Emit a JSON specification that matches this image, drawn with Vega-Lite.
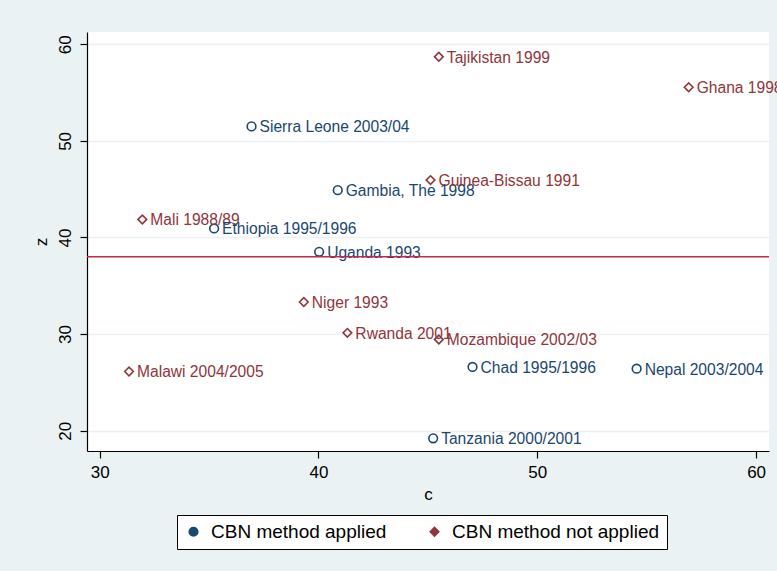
{
  "$schema": "https://vega.github.io/schema/vega-lite/v6.json",
  "width": 682,
  "height": 419,
  "autosize": {"type": "none"},
  "padding": {"left": 87, "top": 32, "right": 8, "bottom": 120},
  "background": "#eaf2f3",
  "view": {"fill": "white", "stroke": null},
  "config": {
    "font": "Liberation Sans",
    "axis": {"labelFont": "Liberation Sans", "titleFont": "Liberation Sans", "labelColor": "black", "titleColor": "black", "domainColor": "black", "tickColor": "black", "titleFontWeight": "normal"},
    "legend": {"labelFont": "Liberation Sans", "labelLimit": 400}
  },
  "data": {
    "values": [
      {"country": "Tajikistan 1999", "c": 45.5, "z": 58.7, "group": "CBN method not applied"},
      {"country": "Ghana 1998", "c": 56.92, "z": 55.55, "group": "CBN method not applied"},
      {"country": "Sierra Leone 2003/04", "c": 36.94, "z": 51.5, "group": "CBN method applied"},
      {"country": "Gambia, The 1998", "c": 40.88, "z": 44.9, "group": "CBN method applied"},
      {"country": "Guinea-Bissau 1991", "c": 45.12, "z": 45.94, "group": "CBN method not applied"},
      {"country": "Mali 1988/89", "c": 31.95, "z": 41.87, "group": "CBN method not applied"},
      {"country": "Ethiopia 1995/1996", "c": 35.23, "z": 40.94, "group": "CBN method applied"},
      {"country": "Uganda 1993", "c": 40.03, "z": 38.52, "group": "CBN method applied"},
      {"country": "Niger 1993", "c": 39.33, "z": 33.32, "group": "CBN method not applied"},
      {"country": "Rwanda 2001", "c": 41.32, "z": 30.13, "group": "CBN method not applied"},
      {"country": "Mozambique 2002/03", "c": 45.5, "z": 29.45, "group": "CBN method not applied"},
      {"country": "Chad 1995/1996", "c": 47.04, "z": 26.6, "group": "CBN method applied"},
      {"country": "Nepal 2003/2004", "c": 54.54, "z": 26.42, "group": "CBN method applied"},
      {"country": "Malawi 2004/2005", "c": 31.34, "z": 26.13, "group": "CBN method not applied"},
      {"country": "Tanzania 2000/2001", "c": 45.24, "z": 19.21, "group": "CBN method applied"}
    ]
  },
  "layer": [
    {
      "mark": {"type": "point", "filled": false, "strokeWidth": 1.6, "opacity": 1, "size": 75},
      "encoding": {
        "x": {"field": "c", "type": "quantitative", "title": "c",
          "scale": {"domain": [29.42, 60.59], "nice": false, "zero": false},
          "axis": {"values": [30, 40, 50, 60], "grid": false, "labelFontSize": 17, "titleFontSize": 17, "tickSize": 7, "labelPadding": 6, "titlePadding": 6, "domainWidth": 1.2, "tickWidth": 1.2}},
        "y": {"field": "z", "type": "quantitative", "title": "z",
          "scale": {"domain": [17.9, 61.27], "nice": false, "zero": false},
          "axis": {"values": [20, 30, 40, 50, 60], "grid": true, "gridColor": "#eaf2f3", "gridWidth": 1.5, "labelFontSize": 17, "titleFontSize": 17, "tickSize": 7, "labelAngle": -90, "labelAlign": "center", "labelBaseline": "bottom", "labelPadding": 6, "titlePadding": 6, "domainWidth": 1.2, "tickWidth": 1.2}},
        "shape": {"field": "group", "type": "nominal",
          "scale": {"domain": ["CBN method applied", "CBN method not applied"], "range": ["circle", "diamond"]},
          "legend": {"title": null, "orient": "none", "legendX": 90, "legendY": 483, "direction": "horizontal", "fillColor": "white", "strokeColor": "black", "padding": 7, "labelFontSize": 19, "labelColor": "black", "labelLimit": 400, "symbolSize": 75, "symbolStrokeWidth": 1.5, "labelOffset": 8, "columnPadding": 38,
            "encode": {"symbols": {"fillOpacity": {"value": 0}}}}},
        "stroke": {"field": "group", "type": "nominal",
          "scale": {"domain": ["CBN method applied", "CBN method not applied"], "range": ["#1a476f", "#90353b"]},
          "legend": {"title": null, "orient": "none", "legendX": 90, "legendY": 483, "direction": "horizontal", "fillColor": "white", "strokeColor": "black", "padding": 7, "labelFontSize": 19, "labelColor": "black", "labelLimit": 400, "symbolSize": 75, "symbolStrokeWidth": 1.5, "labelOffset": 8, "columnPadding": 38,
            "encode": {"symbols": {"fillOpacity": {"value": 0}}}}}
      }
    },
    {
      "mark": {"type": "text", "align": "left", "baseline": "middle", "dx": 8, "dy": 1, "fontSize": 15.6},
      "encoding": {
        "x": {"field": "c", "type": "quantitative"},
        "y": {"field": "z", "type": "quantitative"},
        "text": {"field": "country"},
        "fill": {"field": "group", "type": "nominal",
          "scale": {"domain": ["CBN method applied", "CBN method not applied"], "range": ["#1a476f", "#90353b"]},
          "legend": null}
      }
    },
    {
      "data": {"values": [{"line": 38}]},
      "mark": {"type": "rule", "color": "#c8254a", "strokeWidth": 1.6},
      "encoding": {"y": {"field": "line", "type": "quantitative"}}
    }
  ]
}
